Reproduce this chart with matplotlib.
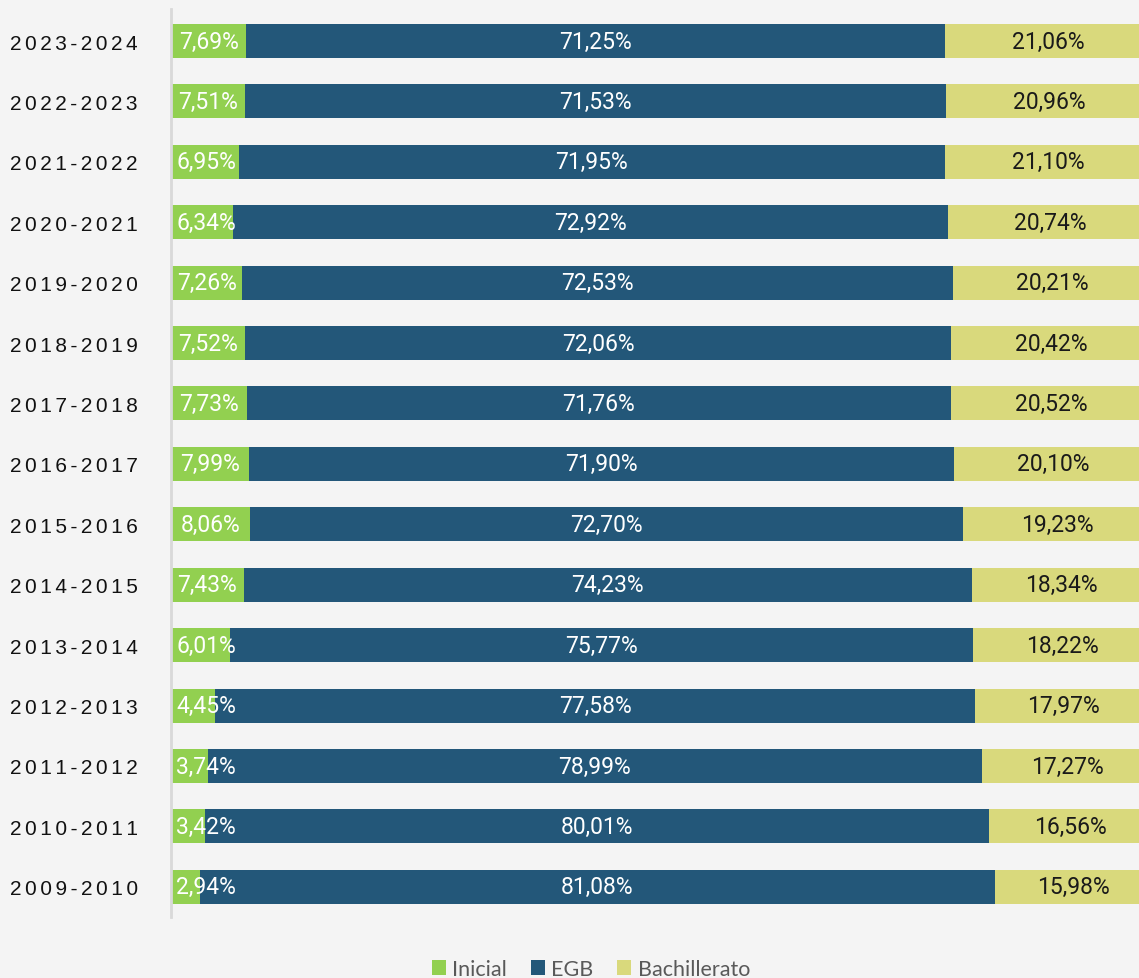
import matplotlib
matplotlib.use("Agg")
import matplotlib.pyplot as plt
from matplotlib.patches import Patch

years = ["2023-2024", "2022-2023", "2021-2022", "2020-2021", "2019-2020",
         "2018-2019", "2017-2018", "2016-2017", "2015-2016", "2014-2015",
         "2013-2014", "2012-2013", "2011-2012", "2010-2011", "2009-2010"]
inicial = [7.69, 7.51, 6.95, 6.34, 7.26, 7.52, 7.73, 7.99, 8.06, 7.43,
           6.01, 4.45, 3.74, 3.42, 2.94]
egb = [71.25, 71.53, 71.95, 72.92, 72.53, 72.06, 71.76, 71.90, 72.70, 74.23,
       75.77, 77.58, 78.99, 80.01, 81.08]
bach = [21.06, 20.96, 21.10, 20.74, 20.21, 20.42, 20.52, 20.10, 19.23, 18.34,
        18.22, 17.97, 17.27, 16.56, 15.98]
series_names = ["Inicial", "EGB", "Bachillerato"]
colors = ["#92d050", "#235779", "#d9d97c"]
bg = "#f4f4f4"

fig = plt.figure(figsize=(11.39, 9.79), dpi=100, facecolor=bg)
ax = fig.add_axes([0.1501, 0.0623, 0.861, 0.9275], facecolor=bg)

n = len(years)
ypos = [n - 1 - i for i in range(n)]
h = 0.563

ax.barh(ypos, inicial, height=h, color=colors[0])
ax.barh(ypos, egb, left=inicial, height=h, color=colors[1])
left2 = [a + b for a, b in zip(inicial, egb)]
ax.barh(ypos, bach, left=left2, height=h, color=colors[2])

def fmt(v):
    return f"{v:.2f}%".replace(".", ",")

vfont = dict(family=["Roboto", "DejaVu Sans"], fontsize=16.5)
for y, a, b, c in zip(ypos, inicial, egb, bach):
    ax.text(max(a / 2, 3.6), y, fmt(a), ha="center", va="center", color="white", **vfont)
    ax.text(a + b / 2, y, fmt(b), ha="center", va="center", color="white", **vfont)
    ax.text(a + b + c / 2, y, fmt(c), ha="center", va="center", color="#1a1a1a", **vfont)

ax.set_xlim(0, 100)
ax.set_ylim(-0.5, 14.53)
ax.set_xticks([])
ax.set_yticks(ypos)
ax.set_yticklabels(["\u200a\u200a".join(list(y)) for y in years],
                   family=["Liberation Sans", "DejaVu Sans"], fontsize=15, color="#111111")
ax.tick_params(axis="y", length=0, pad=24)
for s in ["top", "right", "bottom"]:
    ax.spines[s].set_visible(False)
ax.spines["left"].set_color("#d9d9d9")
ax.spines["left"].set_linewidth(2)

handles = [Patch(facecolor=c, edgecolor="none") for c in colors]
fig.legend(handles, series_names, loc="center", bbox_to_anchor=(591 / 1139, 1 - 970 / 979),
           ncol=3, frameon=False, prop={"family": ["Lato", "DejaVu Sans"], "size": 15.5},
           labelcolor="#595959", handlelength=0.65, handleheight=0.65, handletextpad=0.3,
           columnspacing=1.1)

fig.savefig("out.png", dpi=100, facecolor=bg)
